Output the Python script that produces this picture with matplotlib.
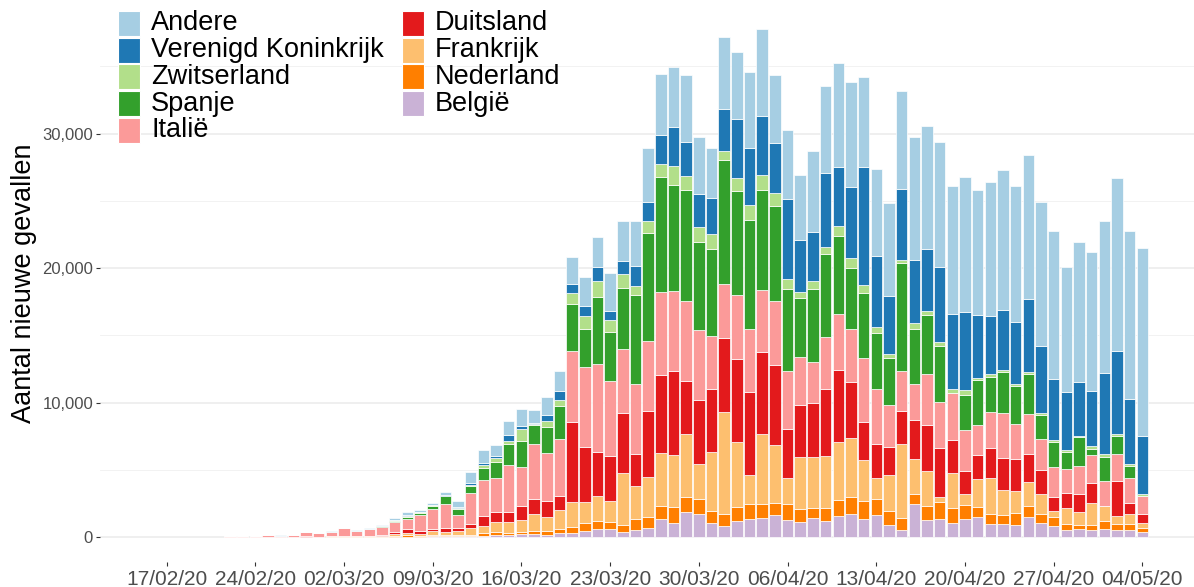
import matplotlib
matplotlib.use("Agg")
import matplotlib.pyplot as plt
import matplotlib.dates as mdates
from matplotlib.patches import Rectangle
from matplotlib.ticker import FuncFormatter
import numpy as np
import pandas as pd

plt.rcParams['font.family'] = ['Liberation Sans', 'DejaVu Sans']

# daily new cases, 22/02/20 .. 04/05/20
dates = pd.date_range("2020-02-22", "2020-05-04", freq="D")

belgie = [0, 0, 0, 0, 0, 0, 0, 0, 0, 0, 0, 0, 0, 20, 30, 30,
          50, 74, 74, 50, 99, 149, 124, 198, 223, 149, 273, 273, 471, 595, 595, 347, 520, 669, 1313, 1066, 1883, 1710, 1066,
          843, 1189, 1363, 1412, 1660, 1264, 1115, 1388, 1189, 1561, 1685, 1313, 1635, 917, 496, 2453, 1239, 1338, 1066, 1313,
          1462, 966, 942, 892, 1462, 1016, 818, 520, 595, 520,
          620, 520, 520, 372]
nederland = [0, 0, 0, 0, 0, 0, 0, 0, 0, 10, 0, 0, 20, 40, 94, 60,
             74, 74, 74, 99, 173, 198, 198, 198, 248, 322, 322, 446, 545, 620, 545, 545, 818, 843, 991, 1189, 1115, 1090, 892,
             867, 1016, 1090, 1041, 892, 1189, 942, 768, 991, 1214, 1313, 1338, 1165, 991, 892, 743, 1066, 1239, 1115, 1066,
             743, 743, 694, 867, 843, 694, 644, 421, 273, 372,
             545, 446, 421, 322]
frankrijk = [0, 0, 0, 5, 10, 15, 20, 20, 40, 30, 60, 60, 90, 190, 198, 149,
             297, 248, 322, 545, 545, 793, 768, 867, 1214, 1041, 1412, 1859, 1561, 1834, 1561, 3841, 2453, 2949, 3965, 3816, 4634, 2627, 4361,
             7607, 4857, 2131, 5229, 4287, 1908, 3915, 3767, 3866, 4287, 4361, 3098, 1586, 2676, 5501, 2627, 2627, 421, 2602, 793,
             2082, 2651, 1834, 1685, 1759, 1487, 471, 1189, 1016, 1635,
             1115, 620, 793, 347]
duitsland = [0, 0, 0, 5, 5, 15, 20, 10, 40, 30, 40, 40, 60, 120, 248, 173,
             149, 248, 173, 248, 768, 719, 793, 1066, 1165, 1189, 1041, 5947, 4089, 3271, 3321, 4460, 2354, 4931, 5749, 6269, 3965, 4758, 4659,
             5452, 6170, 6170, 6071, 5922, 3667, 3866, 4014, 4981, 5328, 4163, 2825, 2528, 2082, 2478, 2874, 3370, 3593, 2428, 1735,
             1809, 2230, 2379, 2329, 2082, 1784, 1016, 1165, 1313, 1487,
             0, 2577, 818, 669]
italie = [60, 80, 80, 120, 95, 130, 300, 240, 300, 570, 340, 470, 590, 740, 768, 1200,
          1487, 1784, 992, 2305, 2651, 2503, 3469, 2850, 4039, 3519, 4213, 5303, 5997, 6542, 5576, 4758, 5229, 5204, 6170, 5947, 5972, 5204, 3990,
          4014, 4758, 4683, 4609, 4807, 4312, 3568, 3048, 3866, 4213, 3915, 4708, 4089, 3147, 2974, 2651, 3816, 3469, 3469, 3048,
          2230, 2726, 3345, 2651, 2998, 2305, 2280, 1735, 2082, 2057,
          1883, 1982, 1859, 1363]
spanje = [0, 0, 0, 0, 0, 5, 10, 10, 10, 20, 30, 30, 50, 110, 124, 198,
          248, 595, 471, 545, 867, 1239, 1536, 1982, 1437, 1982, 2503, 3469, 2800, 4956, 3667, 4535, 6591, 7979, 8599, 7905, 8202, 6542, 6418,
          9243, 7756, 8103, 7459, 7038, 6071, 4337, 5476, 6170, 5774, 4584, 4857, 4188, 3519, 8004, 4089, 4386, 4138, 0, 2602,
          3345, 2602, 3048, 2800, 2949, 1784, 1859, 1313, 2131, 496,
          1809, 1363, 892, 0]
zwitserland = [0, 0, 0, 0, 0, 0, 5, 0, 0, 0, 0, 0, 20, 30, 99, 40,
               50, 50, 25, 74, 248, 297, 248, 843, 50, 446, 421, 867, 991, 1239, 867, 1041, 719, 892, 966, 1388, 1066, 1115, 1140,
               694, 917, 1115, 1066, 966, 768, 496, 595, 520, 743, 719, 570, 396, 248, 223, 496, 273, 297, 322, 372,
               173, 173, 173, 173, 173, 173, 124, 124, 99, 198,
               173, 124, 99, 124]
vk = [0, 0, 0, 0, 0, 0, 0, 0, 0, 0, 0, 10, 20, 30, 74, 40,
      25, 25, 124, 173, 124, 124, 421, 248, 124, 396, 669, 644, 719, 1041, 669, 991, 1487, 1462, 2156, 2874, 2528, 2453, 2651,
      3073, 4386, 4262, 4411, 3742, 5947, 3816, 3643, 5501, 4411, 5253, 8772, 5328, 4312, 5278, 4659, 4659, 5600, 5551, 5823,
      4659, 4337, 4460, 4609, 5402, 4956, 4535, 4287, 4039, 4089,
      6046, 6195, 4832, 4337]
andere = [15, 20, 20, 20, 15, 15, 15, 20, 30, 30, 50, 35, 40, 120, 223, 124,
          124, 248, 421, 793, 991, 818, 1066, 1239, 942, 1388, 1512, 2032, 2181, 2230, 2800, 2949, 3296, 3965, 4510, 4510, 4981, 4213, 3717,
          5402, 4981, 5650, 6468, 5055, 5129, 4882, 5997, 6468, 7731, 7855, 6691, 6443, 6914, 7310, 9169, 9119, 9293, 9540, 10036,
          9293, 9986, 10408, 10110, 10705, 10680, 11002, 9342, 10358, 10308,
          11300, 12836, 12514, 13976]

# stacking order, bottom to top
series = [("België", belgie, "#CAB2D6"),
          ("Nederland", nederland, "#FF7F00"),
          ("Frankrijk", frankrijk, "#FDBF6F"),
          ("Duitsland", duitsland, "#E31A1C"),
          ("Italië", italie, "#FB9A99"),
          ("Spanje", spanje, "#33A02C"),
          ("Zwitserland", zwitserland, "#B2DF8A"),
          ("Verenigd Koninkrijk", vk, "#1F78B4"),
          ("Andere", andere, "#A6CEE3")]
colors = {n: c for n, _, c in series}

W, H = 1194, 587
fig = plt.figure(figsize=(W / 100, H / 100), dpi=100)
ax = fig.add_axes([100 / W, 25 / H, 1094 / W, 558 / H])

x = mdates.date2num(dates)
bottom = np.zeros(len(dates))
for name, vals, col in series:
    vals = np.array(vals, dtype=float)
    ax.bar(x, vals, width=0.9, bottom=bottom, color=col,
           edgecolor="white", linewidth=0.5, zorder=3)
    bottom += vals

px_day = 12.67
d0 = mdates.date2num(pd.Timestamp("2020-02-17")) - 66.7 / px_day
ax.set_xlim(d0, d0 + 1094 / px_day)
ax.set_ylim(-25 * 74.35, 533 * 74.35)

ticks = pd.date_range("2020-02-17", "2020-05-04", freq="7D")
ax.set_xticks(mdates.date2num(ticks))
ax.set_xticklabels([t.strftime("%d/%m/%y") for t in ticks])
ax.set_yticks([0, 10000, 20000, 30000])
ax.set_yticks([5000, 15000, 25000, 35000], minor=True)
ax.yaxis.set_major_formatter(FuncFormatter(lambda v, p: f"{int(v):,}"))

ax.grid(axis="y", which="major", color="#EBEBEB", linewidth=1.1, zorder=0)
ax.grid(axis="y", which="minor", color="#F0F0F0", linewidth=0.6, zorder=0)
ax.grid(axis="x", visible=False)
for s in ax.spines.values():
    s.set_visible(False)

ax.tick_params(axis="y", which="major", length=3, width=0.8, color="#333333",
               labelsize=12, labelcolor="#4D4D4D", pad=2)
ax.tick_params(axis="x", which="major", length=3, width=0.8, color="#333333",
               labelsize=15, labelcolor="#4D4D4D", pad=3)
ax.tick_params(which="minor", length=0)

ax.set_ylabel("Aantal nieuwe gevallen", fontsize=19.5, color="black")
ax.yaxis.set_label_coords((37 - 100) / 1094, 0.5)

# legend, two columns, drawn in figure pixels
col1 = ["Andere", "Verenigd Koninkrijk", "Zwitserland", "Spanje", "Italië"]
col2 = ["Duitsland", "Frankrijk", "Nederland", "België"]
for cx, names in [(118, col1), (402, col2)]:
    for i, name in enumerate(names):
        top = 11 + 26.7 * i
        fig.add_artist(Rectangle((cx / W, 1 - (top + 25) / H), 22 / W, 25 / H,
                                 transform=fig.transFigure, facecolor=colors[name],
                                 edgecolor="white", linewidth=0.8))
        fig.text((cx + 33) / W, 1 - (top + 12.5) / H, name, fontsize=19.5,
                 va="center", ha="left", color="black")

fig.savefig("out.png", dpi=100)
